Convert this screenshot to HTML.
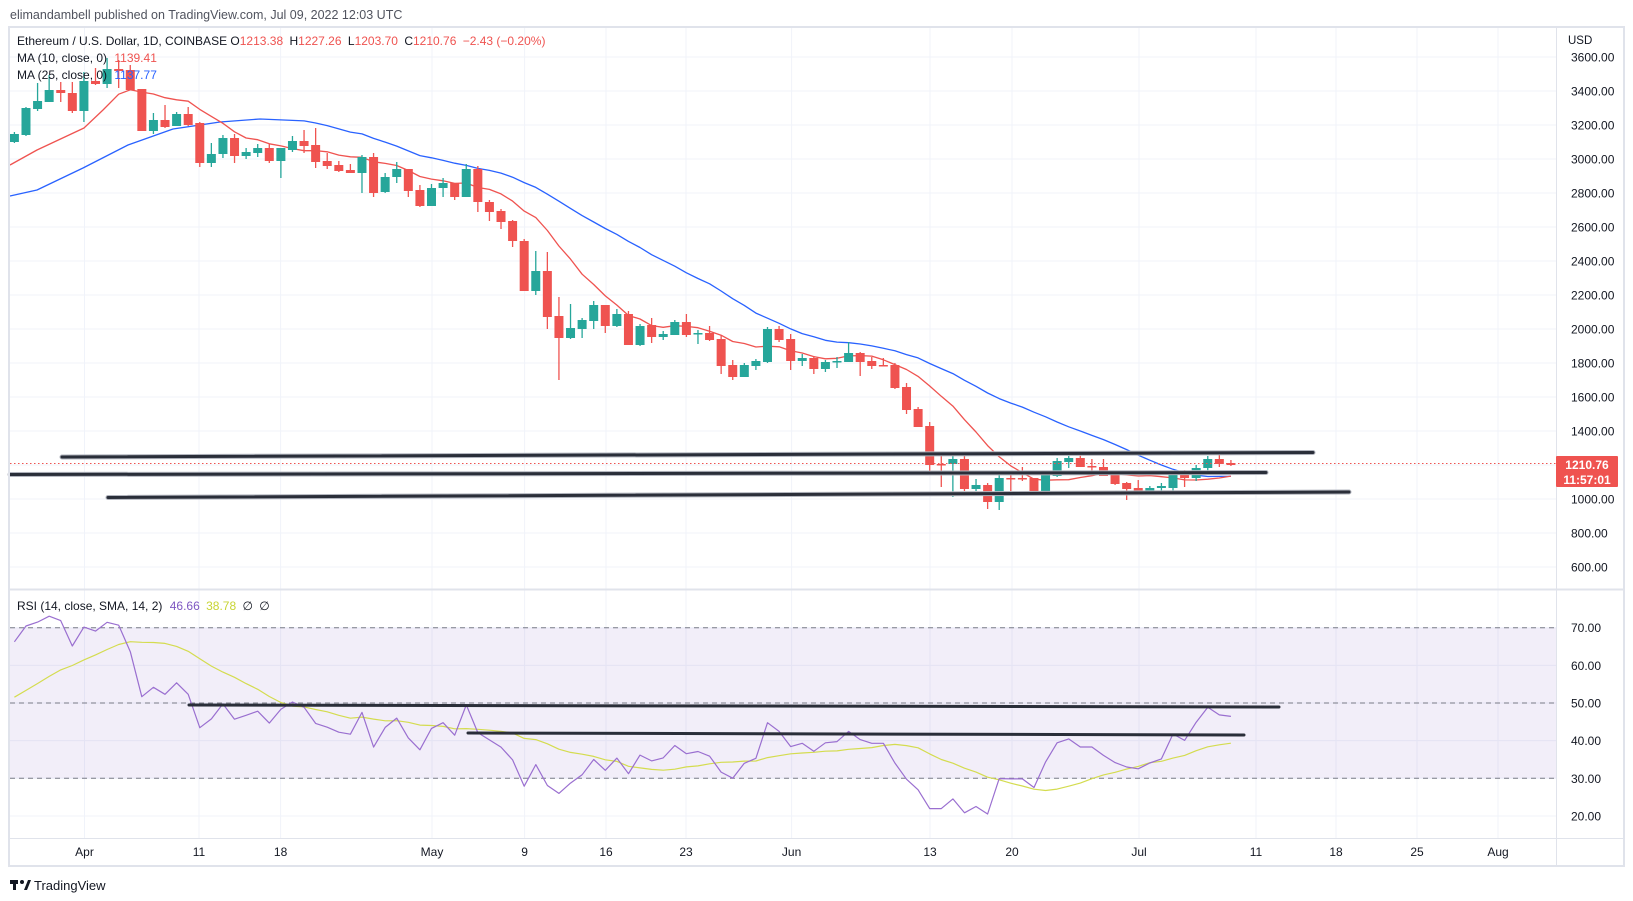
<!DOCTYPE html>
<html><head><meta charset="utf-8"><style>
html,body{margin:0;padding:0;background:#fff;}
body{width:1633px;height:901px;overflow:hidden;font-family:"Liberation Sans",sans-serif;}
svg{display:block}
</style></head><body>
<svg id="s" width="1633" height="901" xmlns="http://www.w3.org/2000/svg" font-family="Liberation Sans, sans-serif">
<text x="10" y="19" font-size="12.5" fill="#50535e">elimandambell published on TradingView.com, Jul 09, 2022 12:03 UTC</text>
<g id="grid"></g>
<rect x="10" y="627.7" width="1546" height="150.6" fill="#7e57c2" fill-opacity="0.1"/>
<g stroke="#787b86" stroke-dasharray="5,4" stroke-width="1">
<line x1="10" y1="627.7" x2="1556" y2="627.7"/><line x1="10" y1="703" x2="1556" y2="703"/><line x1="10" y1="778.3" x2="1556" y2="778.3"/>
</g>
<g id="ma"></g>
<g id="candles"></g>
<g id="rsi"></g>
<line x1="10" y1="463.5" x2="1556" y2="463.5" stroke="#ef5350" stroke-dasharray="1.5,2.5" stroke-width="1"/>
<g stroke="#2a2e39" stroke-width="3" stroke-linecap="round">
<line x1="62" y1="457" x2="1313" y2="452.5" stroke="#b2b5be" stroke-width="5"/>
<line x1="62" y1="457" x2="1313" y2="452.5"/>
<line x1="10" y1="474.5" x2="1266" y2="472.5" stroke="#b2b5be" stroke-width="5"/>
<line x1="10" y1="474.5" x2="1266" y2="472.5"/>
<line x1="108" y1="497.5" x2="1349" y2="492" stroke="#b2b5be" stroke-width="5"/>
<line x1="108" y1="497.5" x2="1349" y2="492"/>
<line x1="189" y1="705" x2="1279" y2="707"/>
<line x1="468" y1="733" x2="1244" y2="735"/>
</g>
<!-- frame -->
<rect x="9" y="27" width="1615" height="839" fill="none" stroke="#e0e3eb" stroke-width="2"/>
<line x1="1556.5" y1="27" x2="1556.5" y2="866" stroke="#e0e3eb" stroke-width="1"/>
<line x1="9" y1="589.5" x2="1624" y2="589.5" stroke="#e0e3eb" stroke-width="2"/>
<line x1="9" y1="838.5" x2="1624" y2="838.5" stroke="#e0e3eb" stroke-width="1"/>
<g id="axis" font-size="12" fill="#131722"></g>
<rect x="1556" y="456" width="62" height="31" fill="#ef5350" rx="1"/>
<text x="1587" y="469" font-size="12" font-weight="bold" fill="#fff" text-anchor="middle">1210.76</text>
<text x="1587" y="484" font-size="12" font-weight="bold" fill="#fff" text-anchor="middle">11:57:01</text>
<text x="1568" y="44" font-size="11.5" fill="#131722">USD</text>
<text x="17" y="45" font-size="12" fill="#131722">Ethereum / U.S. Dollar, 1D, COINBASE <tspan>O</tspan><tspan fill="#ef5350">1213.38</tspan> <tspan dx="3">H</tspan><tspan fill="#ef5350">1227.26</tspan> <tspan dx="3">L</tspan><tspan fill="#ef5350">1203.70</tspan> <tspan dx="3">C</tspan><tspan fill="#ef5350">1210.76</tspan> <tspan dx="3" fill="#ef5350">−2.43 (−0.20%)</tspan></text>
<text x="17" y="62" font-size="12" fill="#131722">MA (10, close, 0) <tspan dx="4" fill="#ef5350">1139.41</tspan></text>
<text x="17" y="79" font-size="12" fill="#131722">MA (25, close, 0) <tspan dx="4" fill="#2962ff">1137.77</tspan></text>
<text x="17" y="610" font-size="12" fill="#131722">RSI (14, close, SMA, 14, 2) <tspan dx="4" fill="#7e57c2">46.66</tspan> <tspan dx="3" fill="#c8d433">38.78</tspan> <tspan dx="3">∅</tspan> <tspan dx="3">∅</tspan></text>
<g transform="translate(10,878)">
<rect x="0" y="2" width="8" height="4" fill="#131722"/><rect x="3" y="2" width="3" height="10" fill="#131722"/><circle cx="12" cy="4" r="2" fill="#131722"/><path d="M14 12 L18 2 L21 2 L17 12Z" fill="#131722"/>
<text x="24" y="12" font-size="13" fill="#131722">TradingView</text>
</g>
</svg>
<script>
var NS="http://www.w3.org/2000/svg";
function el(p,t,a,txt){var e=document.createElementNS(NS,t);for(var k in a)e.setAttribute(k,a[k]);if(txt!=null)e.textContent=txt;p.appendChild(e);return e;}
var D=[[142,134,132,143],[135,108,107,136],[109,101,83,111],[102,90,75,102],[90,93,82,102],[93,111,82,113],[111,81,72,122],[81,84,68,85],[84,69,58,88],[69,71,60,88],[70,90,65,90],[89,131,89,131],[131,120,113,134],[120,127,105,128],[126,114,112,126],[114,125,107,126],[123,163,122,167],[163,154,143,167],[154,138,135,158],[138,156,134,163],[156,152,148,159],[153,148,144,157],[148,161,144,163],[161,148,148,178],[150,141,136,152],[141,146,130,153],[145,162,128,168],[161,166,153,169],[165,171,161,172],[170,173,164,173],[173,157,155,193],[157,193,153,197],[192,177,173,193],[177,169,162,183],[169,191,169,197],[190,206,185,207],[206,188,184,206],[188,183,178,197],[183,197,183,200],[197,169,164,197],[169,202,166,212],[202,212,200,221],[211,222,209,229],[221,241,220,247],[241,291,239,291],[291,271,251,295],[271,317,252,329],[316,338,297,380],[338,328,304,339],[329,320,318,338],[321,305,301,329],[305,326,305,333],[326,314,309,327],[314,345,311,345],[345,326,324,346],[325,337,318,343],[337,334,331,340],[335,322,320,335],[322,335,314,337],[334,333,330,344],[333,340,326,341],[339,366,335,374],[365,377,360,380],[377,365,363,377],[366,361,359,370],[362,329,327,363],[329,340,326,342],[339,361,334,370],[361,358,354,366],[358,369,356,374],[369,362,360,372],[362,361,357,368],[362,353,342,362],[353,362,352,376],[361,366,357,369],[365,366,358,366],[365,388,363,389],[387,410,383,414],[409,427,407,427],[426,465,422,472],[464,465,454,487],[464,459,456,497],[459,489,456,491],[489,485,479,491],[485,502,483,509],[502,478,473,510],[478,478.5,472,491],[478,478.5,467,481],[478,492,478,492],[492,475,473,492],[476,461,458,477],[462,458,456,468],[458,467,452,467],[466,467,459,472],[467,476,459,476],[475,484,475,485],[483,489,482,500],[488,491,480,493],[491,488,486,495],[488,486,483,493],[488,473,472,492],[473,478,470,487],[478,468,465,481],[468,459,456,471],[459,464,452,467],[463,465,460,466]];
var DX=11.586; function X(i){return 14.4+DX*i;}
var svg=document.getElementById('s');
// grid + axis
var grid=document.getElementById('grid'),axis=document.getElementById('axis');
var dates=[["Apr",84.5],["11",199],["18",280.6],["May",432],["9",524.6],["16",606],["23",686],["Jun",791.6],["13",930],["20",1012],["Jul",1139],["11",1256],["18",1336],["25",1417],["Aug",1498]];
dates.forEach(function(d){el(grid,'line',{x1:d[1],y1:27,x2:d[1],y2:838,stroke:'#f0f3fa','stroke-width':1});el(axis,'text',{x:d[1],y:856,'text-anchor':'middle'},d[0]);});
for(var p=600;p<=3600;p+=200){var y=499-(p-1000)*0.17;el(grid,'line',{x1:10,y1:y,x2:1556,y2:y,stroke:'#f0f3fa'});if(p!=1200)el(axis,'text',{x:1571,y:y+4.5},p.toFixed(2));}
for(var r=20;r<=70;r+=10){var y=627.7+(70-r)*3.765;el(grid,'line',{x1:10,y1:y,x2:1556,y2:y,stroke:'#f0f3fa'});el(axis,'text',{x:1571,y:y+4.5},r.toFixed(2));}
// candles
var cg=document.getElementById('candles');
D.forEach(function(c,i){var x=X(i),up=c[1]<c[0],col=up?'#26a69a':'#ef5350';
el(cg,'line',{x1:x,y1:c[2],x2:x,y2:c[3],stroke:col,'stroke-width':1.3});
var t=Math.min(c[0],c[1]),h=Math.max(1.5,Math.abs(c[0]-c[1]));el(cg,'rect',{x:x-4.5,y:t,width:9,height:h,fill:col});});
// MAs
function pts(man,start,n){var out=[];man.forEach(function(m){out.push(m);});
for(var i=start;i<D.length;i++){var s=0;for(var k=i-n+1;k<=i;k++)s+=D[k][1];out.push([X(i),s/n]);}return out;}
var ma10=pts([[10,165],[37,150],[84,128],[103,110]],9,10);
var ma25=pts([[10,196],[37,190],[83,168],[128,145],[173,129],[220,122],[260,119]],24,25);
var mg=document.getElementById('ma');
function pl(g,a,col,w){el(g,'polyline',{points:a.map(function(q){return q[0].toFixed(1)+','+q[1].toFixed(1)}).join(' '),fill:'none',stroke:col,'stroke-width':w,'stroke-linejoin':'round'});}
pl(mg,ma25,'#2962ff',1.3);pl(mg,ma10,'#ef5350',1.3);
// RSI
var pr=D.map(function(c){return 1000+(499-c[1])/0.17;});
var ag=55,al=28,rsi=[];
for(var i=0;i<pr.length;i++){if(i>0){var ch=pr[i]-pr[i-1];ag=(ag*13+Math.max(ch,0))/14;al=(al*13+Math.max(-ch,0))/14;}rsi.push(100-100/(1+ag/al));}
var hist=[];for(var k=0;k<13;k++)hist.push(45+k*0.9);var all=hist.concat(rsi),sma=[];
for(var i=0;i<rsi.length;i++){var s=0;for(var k=i;k<i+14;k++)s+=all[k];sma.push(s/14);}
function ry(v){return 627.7+(70-v)*3.765;}
var rg=document.getElementById('rsi');
pl(rg,sma.map(function(v,i){return [X(i),ry(v)]}),'#d4dc4f',1.2);
pl(rg,rsi.map(function(v,i){return [X(i),ry(v)]}),'#9a6fd0',1.2);
</script>
</body></html>
